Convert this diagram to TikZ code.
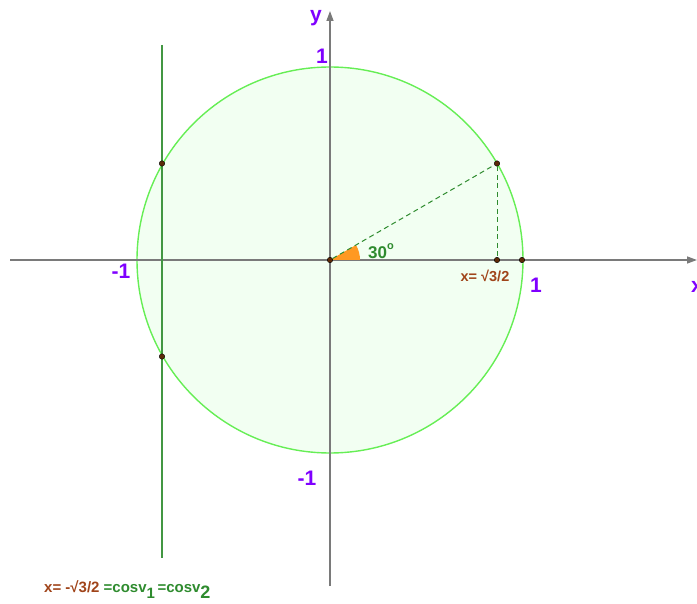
\documentclass[tikz,border=0pt]{standalone}
\usepackage{fontspec}
\setmainfont{Liberation Sans}
\usetikzlibrary{arrows.meta}
\definecolor{axisgray}{HTML}{7A7A7A}
\definecolor{lblpurple}{HTML}{7F00FF}
\definecolor{circgreen}{HTML}{66EE55}
\definecolor{circfill}{HTML}{F2FFF2}
\definecolor{dkgreen}{HTML}{2E8B2E}
\definecolor{brownpt}{HTML}{5C2A08}
\definecolor{browntxt}{HTML}{A0441A}
\definecolor{wedge}{HTML}{FF9922}
\tikzset{
  axis/.style={draw=axisgray, line width=1.3pt, -{Triangle[length=10pt,width=7pt]}},
  lbl/.style={text=lblpurple, font=\fontsize{21}{24}\selectfont\bfseries, inner sep=0pt},
  pt/.style={circle, fill=brownpt, draw=black, line width=0.4pt, minimum size=5.5pt, inner sep=0pt},
  dsh/.style={draw=dkgreen, dashed, dash pattern=on 5pt off 3.5pt, line width=1pt},
}
\begin{document}
\begin{tikzpicture}[x=1pt,y=-1pt]
\useasboundingbox (0,0) rectangle (697,604);
% circle
\draw[circgreen, fill=circfill, line width=1.4pt] (330,260) circle[radius=193];
% axes
\coordinate (xs) at (10,260);
\coordinate (xe) at (697,260);
\coordinate (ys) at (330,586);
\coordinate (ye) at (330,11);
\draw[axis] (xs) -- (xe);
\draw[axis] (ys) -- (ye);
% vertical green line
\coordinate (ls) at (162,45);
\coordinate (le) at (162,558);
\draw[dkgreen!90!white, line width=1.5pt] (ls) -- (le);
% wedge
\fill[wedge] (330,260) -- (360,260) arc[start angle=0, end angle=-30, radius=30] -- cycle;
% points
\node[pt] (O) at (330,260) {};
\node[pt] (P) at (497,163.5) {};
\node[pt] (Q) at (497,260) {};
\node[pt] (R) at (522,260) {};
\node[pt] (A) at (162,163.5) {};
\node[pt] (B) at (162,356.5) {};
\draw[dsh] (O) -- (P);
\draw[dsh] (P) -- (Q);
% labels
\node[lbl] (ly) at (316,18) {y};
\node[lbl] (lx) at (697,287) {x};
\node[lbl] (l1y) at (322,56) {1};
\node[lbl] (l1x) at (536,285) {1};
\node[lbl] (lm1x) at (121,271) {-1};
\node[lbl] (lm1y) at (307,478) {-1};
\node[text=dkgreen, font=\fontsize{17}{20}\selectfont\bfseries, inner sep=0pt] (ang) at (381,251) {30\raisebox{0.55em}{\fontsize{11}{11}\selectfont o}};
\node[text=browntxt, font=\fontsize{14.5}{17}\selectfont\bfseries, inner sep=0pt] (xv) at (485,276) {x= √3/2};
\node[anchor=west, inner sep=0pt, font=\fontsize{15}{17}\selectfont\bfseries] (bt) at (44,590) {\textcolor{browntxt}{x= -√3/2} \textcolor{dkgreen}{=cosv\raisebox{-0.4em}{1}\,=cosv\raisebox{-0.4em}{\fontsize{18}{18}\selectfont 2}}};
\end{tikzpicture}
\end{document}
